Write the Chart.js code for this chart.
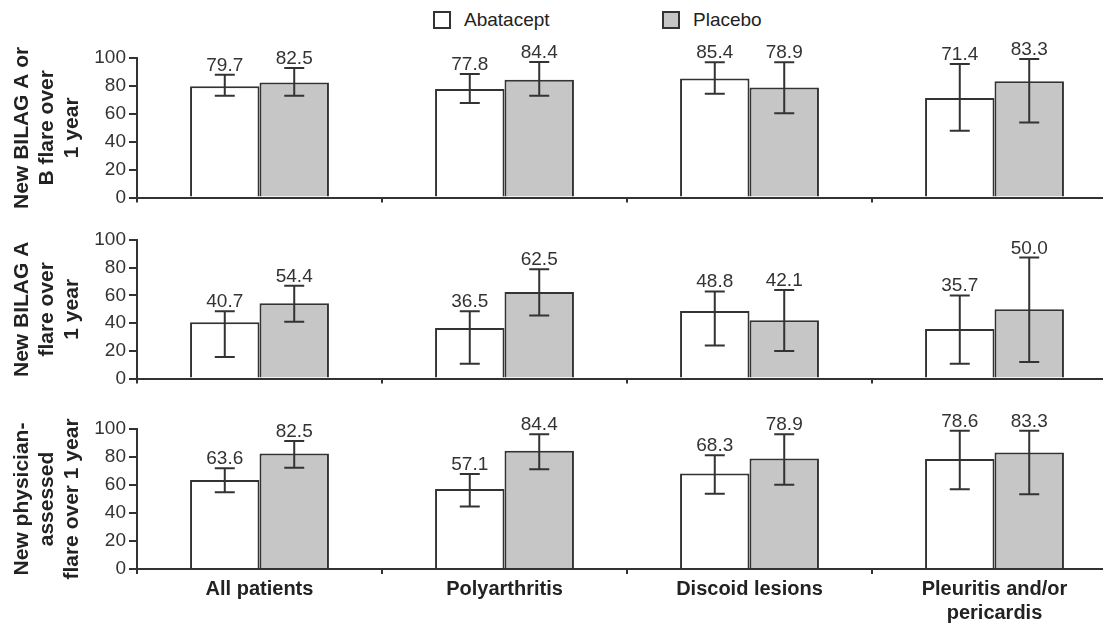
<!DOCTYPE html>
<html>
<head>
<meta charset="utf-8">
<script src="https://cdn.jsdelivr.net/npm/chart.js@4.4.1/dist/chart.umd.min.js"></script>
<style>
    html, body { margin: 0; padding: 0; background: #fff; overflow: hidden; }
    #wrap { position: relative; width: 1103px; height: 625px; overflow: hidden; }
    .panel { position: absolute; left: 0; width: 1120px; }
    #legend { position: absolute; top: 0; left: 0; width: 1103px; height: 40px;
              font-family: "Liberation Sans", Arial, sans-serif; font-size: 19px; color: #222; }
    .item { position: absolute; top: 9px; display: flex; align-items: center; line-height: 22px; }
    .swatch { width: 18px; height: 18px; box-sizing: border-box; border: 2px solid #333; margin-right: 13px; }
</style>
</head>
<body>
<div id="wrap">
    <div id="legend"></div>
    <div class="panel" style="top:0; height:212px;"><canvas id="c1"></canvas></div>
    <div class="panel" style="top:210px; height:183px;"><canvas id="c2"></canvas></div>
    <div class="panel" style="top:390px; height:240px;"><canvas id="c3"></canvas></div>
</div>
<script>
var FONT = '"Liberation Sans", Arial, sans-serif';

var categories = ['All patients', 'Polyarthritis', 'Discoid lesions', ['Pleuritis and/or', 'pericardis']];
var seriesNames = ['Abatacept', 'Placebo'];
var yTicks = [0, 20, 40, 60, 80, 100];

// panel 1: new BILAG A or B flare
var bilagAB_aba = [79.7, 77.8, 85.4, 71.4];
var bilagAB_abaLow = [73.0, 67.7, 74.4, 47.8];
var bilagAB_abaHigh = [88.0, 88.5, 96.9, 95.7];
var bilagAB_pla = [82.5, 84.4, 78.9, 83.3];
var bilagAB_plaLow = [73.0, 73.0, 60.5, 53.8];
var bilagAB_plaHigh = [92.8, 97.1, 96.9, 99.3];

// panel 2: new BILAG A flare
var bilagA_aba = [40.7, 36.5, 48.8, 35.7];
var bilagA_abaLow = [15.6, 10.8, 23.9, 10.8];
var bilagA_abaHigh = [48.6, 48.6, 62.9, 60.0];
var bilagA_pla = [54.4, 62.5, 42.1, 50.0];
var bilagA_plaLow = [41.1, 45.5, 19.9, 12.0];
var bilagA_plaHigh = [67.0, 78.9, 63.9, 87.3];

// panel 3: new physician-assessed flare
var phys_aba = [63.6, 57.1, 68.3, 78.6];
var phys_abaLow = [54.9, 44.7, 53.7, 57.0];
var phys_abaHigh = [72.0, 67.9, 81.2, 98.8];
var phys_pla = [82.5, 84.4, 78.9, 83.3];
var phys_plaLow = [72.4, 71.3, 60.1, 53.4];
var phys_plaHigh = [91.4, 96.2, 96.2, 98.8];

var titles = [
    ['New BILAG A or', 'B flare over', '1 year'],
    ['New BILAG A', 'flare over', '1 year'],
    ['New physician-', 'assessed', 'flare over 1 year']
];

// error bars with the value written above the upper cap
var errorBarPlugin = {
    id: 'errorBars',
    afterDatasetsDraw: function (chart) {
        var ctx = chart.ctx;
        var yScale = chart.scales.y;
        chart.data.datasets.forEach(function (ds, di) {
            var meta = chart.getDatasetMeta(di);
            meta.data.forEach(function (bar, i) {
                var x = bar.x;
                var yLo = yScale.getPixelForValue(ds.errLow[i]);
                var yHi = yScale.getPixelForValue(ds.errHigh[i]);
                ctx.save();
                ctx.strokeStyle = '#333';
                ctx.lineWidth = 2;
                ctx.beginPath();
                ctx.moveTo(x, yLo);
                ctx.lineTo(x, yHi);
                ctx.moveTo(x - 10, yLo);
                ctx.lineTo(x + 10, yLo);
                ctx.moveTo(x - 10, yHi);
                ctx.lineTo(x + 10, yHi);
                ctx.stroke();
                ctx.fillStyle = '#333';
                ctx.font = '19px ' + FONT;
                ctx.textAlign = 'center';
                ctx.textBaseline = 'alphabetic';
                ctx.fillText(ds.data[i].toFixed(1), x, yHi - 4);
                ctx.restore();
            });
        });
    }
};

function makePanel(id, title, aba, abaLow, abaHigh, pla, plaLow, plaHigh, showLabels, padding) {
    var ctx = document.getElementById(id);
    return new Chart(ctx, {
        type: 'bar',
        data: {
            labels: categories,
            datasets: [
                {
                    label: seriesNames[0],
                    data: aba,
                    errLow: abaLow,
                    errHigh: abaHigh,
                    backgroundColor: '#ffffff',
                    borderColor: '#333333',
                    borderWidth: 2
                },
                {
                    label: seriesNames[1],
                    data: pla,
                    errLow: plaLow,
                    errHigh: plaHigh,
                    backgroundColor: '#c6c6c6',
                    borderColor: '#333333',
                    borderWidth: 2
                }
            ]
        },
        options: {
            responsive: true,
            maintainAspectRatio: false,
            animation: false,
            categoryPercentage: 0.567,
            barPercentage: 1.0,
            layout: { padding: padding },
            plugins: {
                legend: { display: false },
                tooltip: { enabled: false }
            },
            scales: {
                x: {
                    grid: {
                        offset: true,
                        drawOnChartArea: false,
                        drawTicks: true,
                        tickLength: 5,
                        color: '#333',
                        lineWidth: 2
                    },
                    border: { color: '#333', width: 2 },
                    ticks: {
                        display: showLabels,
                        color: '#222',
                        padding: 3,
                        maxRotation: 0,
                        autoSkip: false,
                        font: { family: FONT, size: 20, weight: 'bold', lineHeight: 1.2 }
                    }
                },
                y: {
                    min: 0,
                    max: 100,
                    afterBuildTicks: function (scale) {
                        scale.ticks = yTicks.map(function (v) { return { value: v }; });
                    },
                    afterFit: function (scale) { scale.width = 137; },
                    grid: {
                        drawOnChartArea: false,
                        tickLength: 8,
                        color: '#333',
                        lineWidth: 2
                    },
                    border: { color: '#333', width: 2 },
                    ticks: {
                        color: '#333',
                        padding: 3,
                        font: { family: FONT, size: 19 }
                    },
                    title: {
                        display: true,
                        text: title,
                        color: '#222',
                        padding: { top: 10, bottom: 0 },
                        font: { family: FONT, size: 21, weight: 'bold', lineHeight: 1.19 }
                    }
                }
            }
        },
        plugins: [errorBarPlugin]
    });
}

var chart1 = makePanel('c1', titles[0], bilagAB_aba, bilagAB_abaLow, bilagAB_abaHigh,
    bilagAB_pla, bilagAB_plaLow, bilagAB_plaHigh, false, { top: 58, bottom: 4, left: 0, right: 3 });
var chart2 = makePanel('c2', titles[1], bilagA_aba, bilagA_abaLow, bilagA_abaHigh,
    bilagA_pla, bilagA_plaLow, bilagA_plaHigh, false, { top: 30, bottom: 3, left: 0, right: 3 });
var chart3 = makePanel('c3', titles[2], phys_aba, phys_abaLow, phys_abaHigh,
    phys_pla, phys_plaLow, phys_plaHigh, true, { top: 39, bottom: 2, left: 0, right: 3 });

// html legend built from the chart's own legend items
var legendLeft = [433, 662];
var legendEl = document.getElementById('legend');
Chart.defaults.plugins.legend.labels.generateLabels(chart1).forEach(function (item, i) {
    var div = document.createElement('div');
    div.className = 'item';
    div.style.left = legendLeft[i] + 'px';
    var sw = document.createElement('span');
    sw.className = 'swatch';
    sw.style.background = item.fillStyle;
    var txt = document.createElement('span');
    txt.textContent = item.text;
    div.appendChild(sw);
    div.appendChild(txt);
    legendEl.appendChild(div);
});
</script>
</body>
</html>
